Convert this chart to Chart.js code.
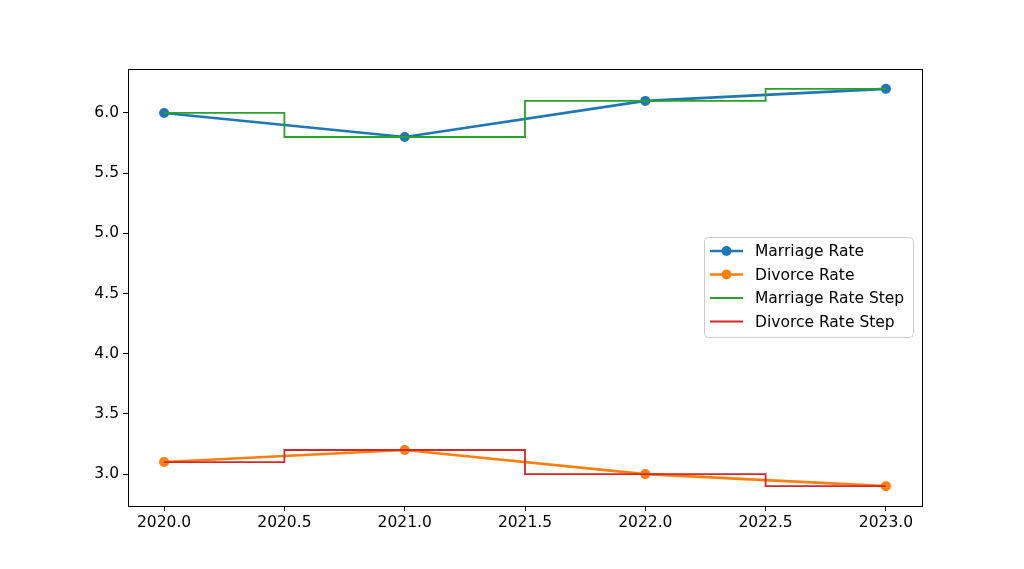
<!DOCTYPE html>
<html>
<head>
<meta charset="utf-8">
<script src="https://cdn.jsdelivr.net/npm/chart.js@4"></script>
<style>
  html, body { margin: 0; padding: 0; background: #fff; }
  #wrap { width: 1024px; height: 569px; }
</style>
</head>
<body>
<div id="wrap"><canvas id="rateChart"></canvas></div>
<script>
// Data
const years = [2020, 2021, 2022, 2023];
const marriageRate = [6.0, 5.8, 6.1, 6.2];
const divorceRate = [3.1, 3.2, 3.0, 2.9];
const xTicks = [2020.0, 2020.5, 2021.0, 2021.5, 2022.0, 2022.5, 2023.0];
const yTicks = [3.0, 3.5, 4.0, 4.5, 5.0, 5.5, 6.0];

const FONT = 'DejaVu Sans';
const FONT_SIZE = 15.5;

function toPoints(xs, ys) {
    return xs.map((x, i) => ({ x: x, y: ys[i] }));
}

// Box round the plot area plus the matplotlib style legend
const framePlugin = {
    id: 'frame',
    afterDraw(chart) {
        const ctx = chart.ctx;
        const a = chart.chartArea;
        ctx.save();
        ctx.strokeStyle = '#000';
        ctx.lineWidth = 1;
        ctx.strokeRect(Math.round(a.left) + 0.5, Math.round(a.top) + 0.5,
            Math.round(a.right - a.left), Math.round(a.bottom - a.top));

        // legend
        const lx = 704, ly = 237, lw = 209, lh = 100, r = 4;
        ctx.globalAlpha = 0.8;
        ctx.fillStyle = '#fff';
        ctx.beginPath();
        ctx.roundRect(lx + 0.5, ly + 0.5, lw, lh, r);
        ctx.fill();
        ctx.globalAlpha = 1;
        ctx.strokeStyle = '#cccccc';
        ctx.stroke();

        ctx.font = FONT_SIZE + 'px ' + FONT;
        ctx.textBaseline = 'middle';
        chart.data.datasets.forEach((ds, i) => {
            const yy = 251 + i * 23.5;
            ctx.strokeStyle = ds.borderColor;
            ctx.lineWidth = ds.borderWidth;
            ctx.beginPath();
            ctx.moveTo(710, yy);
            ctx.lineTo(743, yy);
            ctx.stroke();
            if (ds.pointRadius > 0) {
                ctx.fillStyle = ds.borderColor;
                ctx.beginPath();
                ctx.arc(726.5, yy, ds.pointRadius, 0, Math.PI * 2);
                ctx.fill();
            }
            ctx.fillStyle = '#000';
            ctx.fillText(ds.label, 755, yy + 1);
        });
        ctx.restore();
    }
};

const ctx = document.getElementById('rateChart').getContext('2d');
new Chart(ctx, {
    type: 'line',
    data: {
        datasets: [
            {
                label: 'Marriage Rate',
                data: toPoints(years, marriageRate),
                borderColor: '#1f77b4',
                backgroundColor: '#1f77b4',
                borderWidth: 2.6,
                pointRadius: 5,
                pointBorderWidth: 0,
                order: 4
            },
            {
                label: 'Divorce Rate',
                data: toPoints(years, divorceRate),
                borderColor: '#ff7f0e',
                backgroundColor: '#ff7f0e',
                borderWidth: 2.6,
                pointRadius: 5,
                pointBorderWidth: 0,
                order: 3
            },
            {
                label: 'Marriage Rate Step',
                data: toPoints(years, marriageRate),
                borderColor: '#2ca02c',
                backgroundColor: '#2ca02c',
                borderWidth: 1.8,
                pointRadius: 0,
                stepped: 'middle',
                order: 2
            },
            {
                label: 'Divorce Rate Step',
                data: toPoints(years, divorceRate),
                borderColor: '#d62728',
                backgroundColor: '#d62728',
                borderWidth: 1.8,
                pointRadius: 0,
                stepped: 'middle',
                order: 1
            }
        ]
    },
    options: {
        responsive: true,
        maintainAspectRatio: false,
        animation: false,
        layout: { padding: { left: 0, top: 69, right: 102, bottom: 0 } },
        plugins: {
            legend: { display: false },
            tooltip: { enabled: false }
        },
        scales: {
            x: {
                type: 'linear',
                min: 2019.85,
                max: 2023.15,
                afterBuildTicks(scale) {
                    scale.ticks = xTicks.map(v => ({ value: v }));
                },
                afterFit(scale) { scale.height = 63; },
                grid: {
                    drawOnChartArea: false,
                    drawTicks: true,
                    tickLength: 5,
                    color: '#000'
                },
                border: { display: false },
                ticks: {
                    color: '#000',
                    padding: 3,
                    maxRotation: 0,
                    font: { family: FONT, size: FONT_SIZE },
                    callback: v => v.toFixed(1)
                }
            },
            y: {
                min: 2.735,
                max: 6.365,
                afterBuildTicks(scale) {
                    scale.ticks = yTicks.map(v => ({ value: v }));
                },
                afterFit(scale) { scale.width = 128; },
                grid: {
                    drawOnChartArea: false,
                    drawTicks: true,
                    tickLength: 5,
                    color: '#000'
                },
                border: { display: false },
                ticks: {
                    color: '#000',
                    padding: 4,
                    font: { family: FONT, size: FONT_SIZE },
                    callback: v => v.toFixed(1)
                }
            }
        }
    },
    plugins: [framePlugin]
});
</script>
</body>
</html>
